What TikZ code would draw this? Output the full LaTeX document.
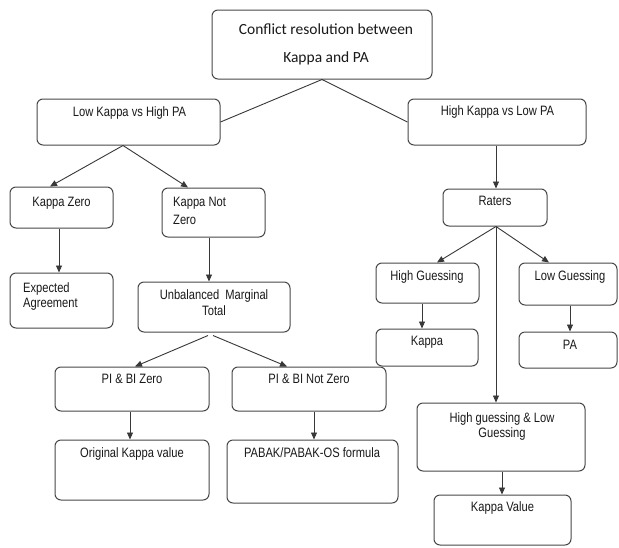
\documentclass[tikz,border=0pt]{standalone}
\usepackage{fontspec}
\setmainfont{Liberation Sans}
\newfontfamily\narrowfont[FakeStretch=0.82]{Liberation Sans}
\newfontfamily\calfont{Carlito}
\usetikzlibrary{arrows.meta}
\begin{document}
\begin{tikzpicture}[x=1pt,y=-1pt,
  box/.style={draw=black!72, line width=1pt, rounded corners=6pt, inner sep=0pt},
  txt/.style={font=\narrowfont\fontsize{13.6}{15}\selectfont, text=black!90, inner sep=0pt, anchor=mid},
  txtl/.style={txt, anchor=mid west},
  toptxt/.style={font=\calfont\fontsize{15.5}{18}\selectfont, text=black!90, inner sep=0pt, anchor=mid},
  ln/.style={draw=black!78, line width=0.9pt},
  arr/.style={ln, -{Triangle[length=7pt,width=6pt]}}]
\useasboundingbox[fill=white] (0,0) rectangle (619,547);

% boxes
\node[box, minimum width=220pt, minimum height=69pt] (top) at (322,44.5) {};
\node[box, minimum width=183pt, minimum height=46pt] (lkhp) at (128.5,122) {};
\node[box, minimum width=178pt, minimum height=46pt] (hklp) at (497,122) {};
\node[box, minimum width=103pt, minimum height=41pt] (kz) at (61.5,207.5) {};
\node[box, minimum width=103pt, minimum height=49pt] (knz) at (213.5,212.5) {};
\node[box, minimum width=103pt, minimum height=55pt] (ea) at (61.5,300.5) {};
\node[box, minimum width=152pt, minimum height=50pt] (umt) at (214,307) {};
\node[box, minimum width=154pt, minimum height=44pt] (pbz) at (132,389) {};
\node[box, minimum width=154pt, minimum height=44pt] (pbnz) at (309,389) {};
\node[box, minimum width=154pt, minimum height=60pt] (okv) at (132,470) {};
\node[box, minimum width=171pt, minimum height=63pt] (pabak) at (312.5,471.5) {};
\node[box, minimum width=104pt, minimum height=37pt] (raters) at (495,207.5) {};
\node[box, minimum width=103pt, minimum height=40pt] (hg) at (427.5,283) {};
\node[box, minimum width=98pt, minimum height=42pt] (lg) at (568,284) {};
\node[box, minimum width=102pt, minimum height=37pt] (kappa) at (427,347.5) {};
\node[box, minimum width=98pt, minimum height=36pt] (pa) at (568,350) {};
\node[box, minimum width=168pt, minimum height=68pt] (hglg) at (501,437) {};
\node[box, minimum width=137pt, minimum height=50pt] (kv) at (502.5,520) {};

% texts
\node[toptxt] (top-t1) at (326,32) {Conflict resolution between};
\node[toptxt] (top-t2) at (326,60) {Kappa and PA};
\node[txt] (lkhp-t) at (129.5,114) {Low Kappa vs High PA};
\node[txt] (hklp-t) at (497.5,113) {High Kappa vs Low PA};
\node[txt] (kz-t) at (61.5,204) {Kappa Zero};
\node[txtl] (knz-t1) at (173,203.5) {Kappa Not};
\node[txtl] (knz-t2) at (173,221.5) {Zero};
\node[txtl] (ea-t1) at (23,290) {Expected};
\node[txtl] (ea-t2) at (23,305) {Agreement};
\node[txt] (umt-t1) at (214,297) {Unbalanced\ \ Marginal};
\node[txt] (umt-t2) at (214,313) {Total};
\node[txt] (pbz-t) at (132,381) {PI \& BI Zero};
\node[txt] (pbnz-t) at (309,381) {PI \& BI Not Zero};
\node[txt] (okv-t) at (132,455) {Original Kappa value};
\node[txt] (pabak-t) at (312,455) {PABAK/PABAK-OS formula};
\node[txt] (raters-t) at (495,203) {Raters};
\node[txt] (hg-t) at (427,278) {High Guessing};
\node[txt] (lg-t) at (570,278) {Low Guessing};
\node[txt] (kappa-t) at (427,343) {Kappa};
\node[txt] (pa-t) at (570,347) {PA};
\node[txt] (hglg-t1) at (502,420) {High guessing \& Low};
\node[txt] (hglg-t2) at (502,435) {Guessing};
\node[txt] (kv-t) at (502.5,509) {Kappa Value};

% connectors
\draw[ln] (top.south) -- (lkhp.east);
\draw[ln] (top.south) -- (hklp.west);
\draw[arr] ([xshift=-5.5pt]lkhp.south) -- ([xshift=-11.5pt]kz.north);
\draw[arr] ([xshift=-5.5pt]lkhp.south) -- ([xshift=-25.5pt]knz.north);
\draw[arr] ([xshift=-2.5pt]kz.south) -- ([xshift=-2.5pt]ea.north);
\draw[arr] ([xshift=-4.5pt]knz.south) -- ([xshift=-4.5pt]knz.south |- umt.north);
\draw[arr] ([xshift=-6pt,yshift=-3pt]umt.south) -- ([xshift=3pt]pbz.north);
\draw[arr] ([xshift=-1pt,yshift=-3pt]umt.south) -- ([xshift=-22pt]pbnz.north);
\draw[arr] ([xshift=-2pt]pbz.south) -- ([xshift=-2pt]okv.north);
\draw[arr] ([xshift=5pt]pbnz.south) -- ([xshift=5pt]pbnz.south |- pabak.north);
\draw[arr] ([xshift=-1pt]hklp.south) -- ([xshift=-1pt]hklp.south |- raters.north);
\draw[arr] ([xshift=1pt]raters.south) -- ([xshift=9.5pt]hg.north);
\draw[arr] ([xshift=1pt]raters.south) -- ([xshift=-19pt]lg.north);
\draw[arr] ([xshift=1pt]raters.south) -- ([xshift=1pt]raters.south |- hglg.north);
\draw[arr] ([xshift=-5.5pt]hg.south) -- ([xshift=-5.5pt]hg.south |- kappa.north);
\draw[arr] ([xshift=2pt]lg.south) -- ([xshift=2pt]lg.south |- pa.north);
\draw[arr] ([xshift=1pt]hglg.south) -- ([xshift=1pt]hglg.south |- kv.north);
\end{tikzpicture}
\end{document}
